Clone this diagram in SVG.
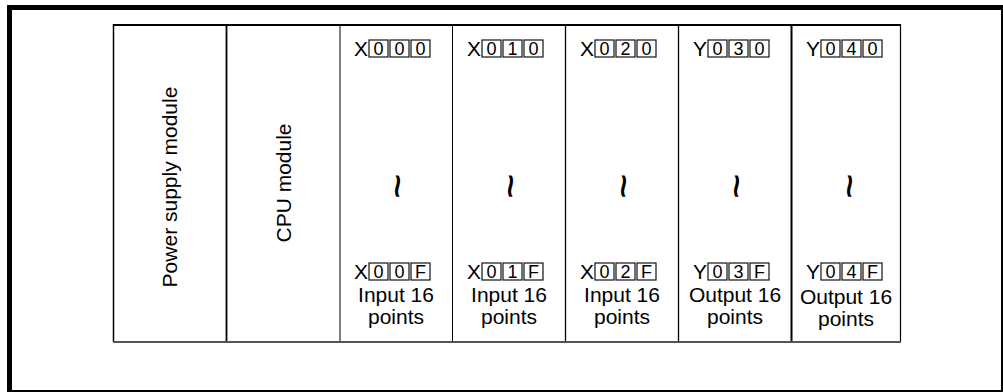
<svg xmlns="http://www.w3.org/2000/svg" width="1003" height="392" viewBox="0 0 1003 392">
  <style>
    text { font-family: "Liberation Sans", Arial, sans-serif; fill: #000; }
    .lbl { font-size: 21px; text-anchor: middle; }
    .pre { font-size: 21px; }
    .dig { font-size: 18px; text-anchor: middle; }
    .box { fill: none; stroke: #111; stroke-width: 1.2; }
    .wave { font-size: 30px; font-weight: bold; text-anchor: middle; }
    .sep { stroke: #000; fill: none; }
  </style>
  <defs>
    <!-- one boxed digit cell, 19 x 17 -->
    <rect id="cell" class="box" x="0" y="0" width="19" height="17"/>
  </defs>

  <!-- outer frame -->
  <rect x="9.5" y="7.5" width="994" height="385" fill="#fff" stroke="#000" stroke-width="5"/>

  <!-- rack outline and slot dividers -->
  <g id="connectors">
    <line class="sep" x1="113.5" y1="25" x2="900.5" y2="25" stroke-width="2"/>
    <line class="sep" x1="113.5" y1="24" x2="113.5" y2="342" stroke-width="1.5"/>
    <line class="sep" x1="900.5" y1="24" x2="900.5" y2="342" stroke-width="1.2"/>
    <line x1="113" y1="342" x2="901" y2="342" stroke="#555" stroke-width="2"/>
    <line class="sep" x1="226.5" y1="25" x2="226.5" y2="341" stroke-width="1.8"/>
    <line class="sep" x1="340" y1="25" x2="340" y2="341" stroke-width="1"/>
    <line class="sep" x1="452.5" y1="25" x2="452.5" y2="341" stroke-width="1"/>
    <line class="sep" x1="565.5" y1="25" x2="565.5" y2="341" stroke-width="1.3"/>
    <line class="sep" x1="678.5" y1="25" x2="678.5" y2="341" stroke-width="1.3"/>
    <line class="sep" x1="791.5" y1="25" x2="791.5" y2="341" stroke-width="2"/>
  </g>

  <g id="power-supply">
    <text class="lbl" transform="translate(177 187) rotate(-90)">Power supply module</text>
  </g>

  <g id="cpu">
    <text class="lbl" transform="translate(291 183) rotate(-90)">CPU module</text>
  </g>

  <!-- slot 0: X000 - X00F -->
  <g id="slot0">
    <text class="pre" x="354" y="56">X</text>
    <use href="#cell" x="369" y="40"/><use href="#cell" x="390" y="40"/><use href="#cell" x="411" y="40"/>
    <text class="dig" x="378.5" y="55">0</text><text class="dig" x="399.5" y="55">0</text><text class="dig" x="420.5" y="55">0</text>
    <text class="wave" transform="translate(396 186) rotate(90) scale(1.4 1)" dy="9">~</text>
    <text class="pre" x="354" y="279">X</text>
    <use href="#cell" x="369" y="263"/><use href="#cell" x="390" y="263"/><use href="#cell" x="411" y="263"/>
    <text class="dig" x="378.5" y="278">0</text><text class="dig" x="399.5" y="278">0</text><text class="dig" x="420.5" y="278">F</text>
    <text class="lbl" x="396" y="302">Input 16</text>
    <text class="lbl" x="396" y="324">points</text>
  </g>

  <!-- slot 1: X010 - X01F -->
  <g id="slot1">
    <text class="pre" x="467" y="56">X</text>
    <use href="#cell" x="482" y="40"/><use href="#cell" x="503" y="40"/><use href="#cell" x="524" y="40"/>
    <text class="dig" x="491.5" y="55">0</text><text class="dig" x="512.5" y="55">1</text><text class="dig" x="533.5" y="55">0</text>
    <text class="wave" transform="translate(509 186) rotate(90) scale(1.4 1)" dy="9">~</text>
    <text class="pre" x="467" y="279">X</text>
    <use href="#cell" x="482" y="263"/><use href="#cell" x="503" y="263"/><use href="#cell" x="524" y="263"/>
    <text class="dig" x="491.5" y="278">0</text><text class="dig" x="512.5" y="278">1</text><text class="dig" x="533.5" y="278">F</text>
    <text class="lbl" x="509" y="302">Input 16</text>
    <text class="lbl" x="509" y="324">points</text>
  </g>

  <!-- slot 2: X020 - X02F -->
  <g id="slot2">
    <text class="pre" x="580" y="56">X</text>
    <use href="#cell" x="595" y="40"/><use href="#cell" x="616" y="40"/><use href="#cell" x="637" y="40"/>
    <text class="dig" x="604.5" y="55">0</text><text class="dig" x="625.5" y="55">2</text><text class="dig" x="646.5" y="55">0</text>
    <text class="wave" transform="translate(622 186) rotate(90) scale(1.4 1)" dy="9">~</text>
    <text class="pre" x="580" y="279">X</text>
    <use href="#cell" x="595" y="263"/><use href="#cell" x="616" y="263"/><use href="#cell" x="637" y="263"/>
    <text class="dig" x="604.5" y="278">0</text><text class="dig" x="625.5" y="278">2</text><text class="dig" x="646.5" y="278">F</text>
    <text class="lbl" x="622" y="302">Input 16</text>
    <text class="lbl" x="622" y="324">points</text>
  </g>

  <!-- slot 3: Y030 - Y03F -->
  <g id="slot3">
    <text class="pre" x="693" y="56">Y</text>
    <use href="#cell" x="708" y="40"/><use href="#cell" x="729" y="40"/><use href="#cell" x="750" y="40"/>
    <text class="dig" x="717.5" y="55">0</text><text class="dig" x="738.5" y="55">3</text><text class="dig" x="759.5" y="55">0</text>
    <text class="wave" transform="translate(735 186) rotate(90) scale(1.4 1)" dy="9">~</text>
    <text class="pre" x="693" y="279">Y</text>
    <use href="#cell" x="708" y="263"/><use href="#cell" x="729" y="263"/><use href="#cell" x="750" y="263"/>
    <text class="dig" x="717.5" y="278">0</text><text class="dig" x="738.5" y="278">3</text><text class="dig" x="759.5" y="278">F</text>
    <text class="lbl" x="735" y="302">Output 16</text>
    <text class="lbl" x="735" y="324">points</text>
  </g>

  <!-- slot 4: Y040 - Y04F -->
  <g id="slot4">
    <text class="pre" x="806" y="56">Y</text>
    <use href="#cell" x="821" y="40"/><use href="#cell" x="842" y="40"/><use href="#cell" x="863" y="40"/>
    <text class="dig" x="830.5" y="55">0</text><text class="dig" x="851.5" y="55">4</text><text class="dig" x="872.5" y="55">0</text>
    <text class="wave" transform="translate(848 186) rotate(90) scale(1.4 1)" dy="9">~</text>
    <text class="pre" x="806" y="279">Y</text>
    <use href="#cell" x="821" y="263"/><use href="#cell" x="842" y="263"/><use href="#cell" x="863" y="263"/>
    <text class="dig" x="830.5" y="278">0</text><text class="dig" x="851.5" y="278">4</text><text class="dig" x="872.5" y="278">F</text>
    <text class="lbl" x="846" y="304">Output 16</text>
    <text class="lbl" x="846" y="326">points</text>
  </g>
</svg>
